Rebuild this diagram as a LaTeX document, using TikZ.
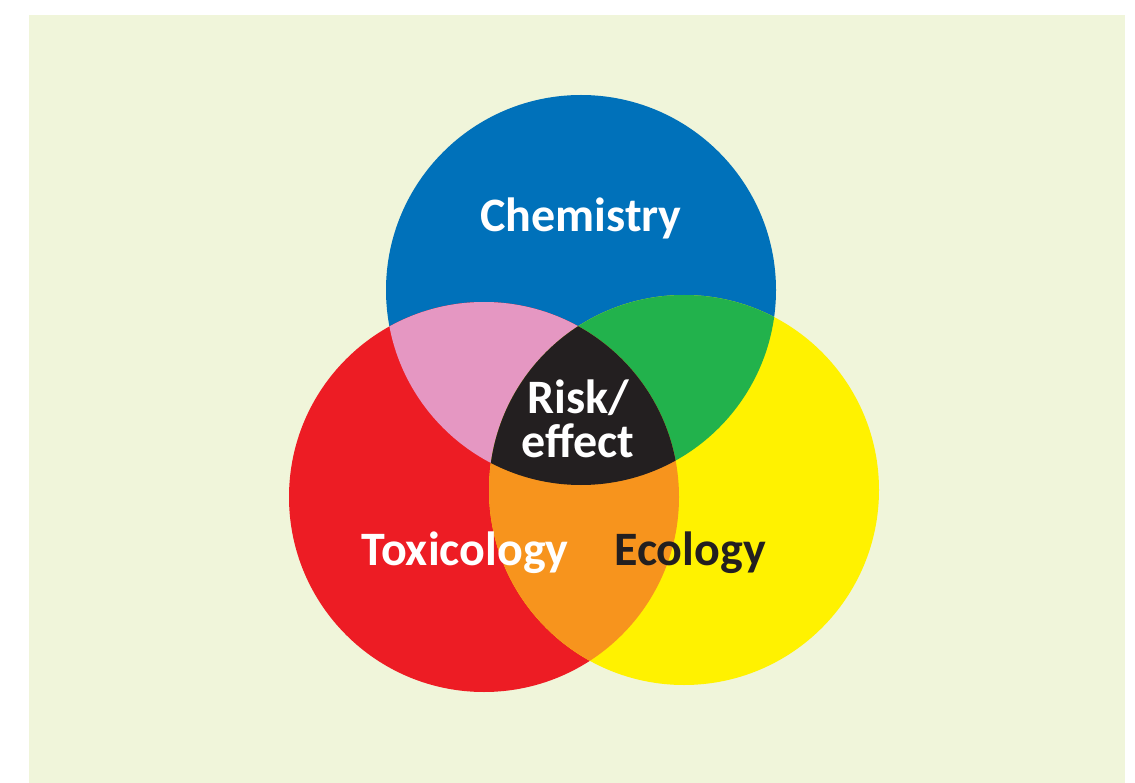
\documentclass[tikz,border=0pt]{standalone}
\usepackage{fontspec}
\setmainfont{Carlito}
\usetikzlibrary{positioning}

\definecolor{bgcream}{HTML}{F0F5DA}
\definecolor{chemblue}{HTML}{0071BA}
\definecolor{toxred}{HTML}{ED1C24}
\definecolor{ecoyellow}{HTML}{FFF200}
\definecolor{chemtox}{HTML}{E597C2}
\definecolor{chemeco}{HTML}{22B24C}
\definecolor{toxeco}{HTML}{F7941D}
\definecolor{riskblack}{HTML}{231F20}

\begin{document}
\begin{tikzpicture}[
    x=1pt, y=-1pt,
    fieldlabel/.style={
      font=\fontsize{48}{44}\selectfont\bfseries,
      text=white, inner sep=0pt, align=center
    },
    ring/.style={radius=195pt}
  ]
    \useasboundingbox (0,0) rectangle (1135,783);
    \fill[bgcream] (29,15) rectangle (1125,783);

    \coordinate (ChemCentre) at (581,290);
    \coordinate (ToxCentre) at (484,497);
    \coordinate (EcoCentre) at (684,490);

    % the three fields
    \fill[chemblue] (ChemCentre) circle[ring];
    \fill[toxred] (ToxCentre) circle[ring];
    \fill[ecoyellow] (EcoCentre) circle[ring];

    % pairwise overlaps
    \begin{scope}
      \clip (ChemCentre) circle[ring];
      \fill[chemtox] (ToxCentre) circle[ring];
      \fill[chemeco] (EcoCentre) circle[ring];
    \end{scope}
    \begin{scope}
      \clip (ToxCentre) circle[ring];
      \fill[toxeco] (EcoCentre) circle[ring];
    \end{scope}

    % centre
    \begin{scope}
      \clip (ChemCentre) circle[ring];
      \clip (ToxCentre) circle[ring];
      \fill[riskblack] (EcoCentre) circle[ring];
    \end{scope}

    \node[fieldlabel, anchor=base] (Chemistry) at (581,232) {Chemistry};
    \node[fieldlabel, anchor=base] (Toxicology) at (465,565) {Toxicology};
    \node[fieldlabel, anchor=base, text=riskblack] (Ecology) at (690,565) {Ecology};
    \node[fieldlabel] (Risk) at (578,419) {Risk/\\effect};
  \end{tikzpicture}
\end{document}
